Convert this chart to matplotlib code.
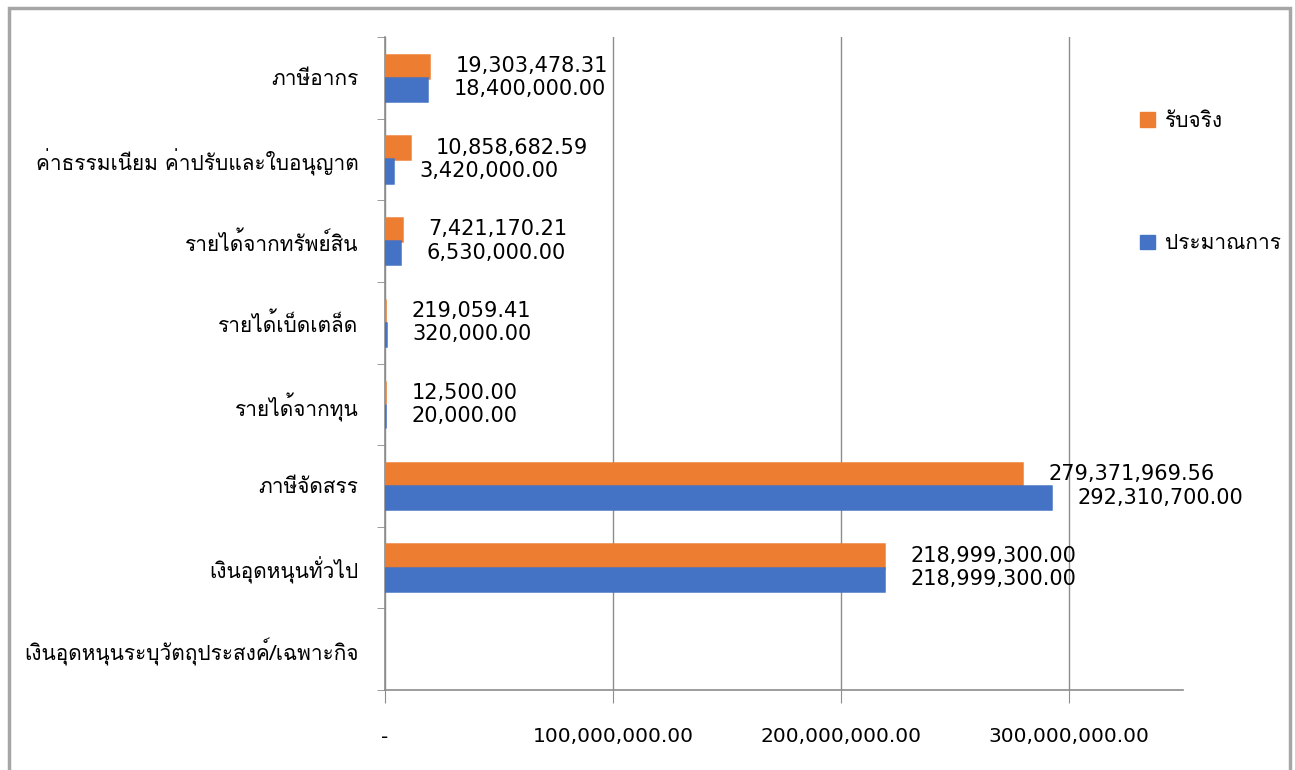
import numpy as np
import matplotlib
matplotlib.use("Agg")
import matplotlib.pyplot as plt
from matplotlib import font_manager
from matplotlib.ft2font import FT2Font
from matplotlib.patches import Rectangle, Patch

# ---- data ----
categories = [
    "ภาษีอากร",
    "ค่าธรรมเนียม ค่าปรับและใบอนุญาต",
    "รายได้จากทรัพย์สิน",
    "รายได้เบ็ดเตล็ด",
    "รายได้จากทุน",
    "ภาษีจัดสรร",
    "เงินอุดหนุนทั่วไป",
    "เงินอุดหนุนระบุวัตถุประสงค์/เฉพาะกิจ",
]
actual = [19303478.31, 10858682.59, 7421170.21, 219059.41, 12500.00,
          279371969.56, 218999300.00, np.nan]
budget = [18400000.00, 3420000.00, 6530000.00, 320000.00, 20000.00,
          292310700.00, 218999300.00, np.nan]
series_names = ["รับจริง", "ประมาณการ"]
xticks = [0, 100000000, 200000000, 300000000]
xtick_labels = ["-", "100,000,000.00", "200,000,000.00", "300,000,000.00"]

# ---- find a font with Thai glyphs ----
thai_family = None
for fe in font_manager.fontManager.ttflist:
    try:
        f = FT2Font(fe.fname)
        cm = f.get_charmap()
        if 0x0E20 in cm and 0x0E01 in cm:
            thai_family = fe.name
            break
    except Exception:
        pass
thai_fams = ([thai_family] if thai_family else []) + ["DejaVu Sans"]
num_fams = ["DejaVu Sans"]
plt.rcParams["font.family"] = thai_fams

C_ACT = "#ED7D31"
C_BUD = "#4472C4"
GRID = "#8c8c8c"

fig = plt.figure(figsize=(12.95, 7.70), dpi=100)
ax = fig.add_axes([385/1295, 1-690/770, (1183-385)/1295, (690-37)/770])

y = np.arange(len(categories))
h = 0.285
ax.barh(y - h/2, actual, height=h, color=C_ACT, edgecolor=C_ACT,
        linewidth=1.8, zorder=3)
ax.barh(y + h/2, budget, height=h, color=C_BUD, edgecolor=C_BUD,
        linewidth=1.8, zorder=3)

for i in range(len(categories)):
    for val, off in ((actual[i], -h/2), (budget[i], h/2)):
        if np.isnan(val):
            continue
        ax.annotate(f"{val:,.2f}", xy=(val, y[i] + off), xytext=(19, 0),
                    textcoords="offset points", ha="left", va="center",
                    fontsize=15, family=num_fams, color="black", zorder=4)

ax.set_xlim(0, 350000000)
ax.set_ylim(len(categories) - 0.5, -0.5)
ax.set_xticks(xticks)
ax.set_xticklabels(xtick_labels, fontsize=14.5, family=num_fams)
ax.set_yticks(y)
ax.set_yticklabels(categories, fontsize=15)
ax.set_yticks(np.arange(len(categories) + 1) - 0.5, minor=True)

ax.tick_params(axis="y", which="major", length=0, pad=19)
ax.tick_params(axis="y", which="minor", length=6, color=GRID, direction="out")
ax.tick_params(axis="x", which="major", length=9, color=GRID, direction="out", pad=18)
ax.grid(axis="x", color=GRID, linewidth=1, zorder=0)
for s in ("top", "right"):
    ax.spines[s].set_visible(False)
for s in ("left", "bottom"):
    ax.spines[s].set_color(GRID)
    ax.spines[s].set_linewidth(1.2)

# legend
handles = [Patch(color=C_ACT), Patch(color=C_BUD)]
fig.legend(handles, series_names, loc="upper left",
           bbox_to_anchor=(1140/1295, 1-112/770), frameon=False,
           fontsize=15, handlelength=0.7, handleheight=0.7, borderpad=0,
           borderaxespad=0, handletextpad=0.5, labelspacing=4.95)

# outer frame
top = 1 - 8/770
fig.patches.append(Rectangle((9/1295, -0.02), (1290-9)/1295, top + 0.02,
                             transform=fig.transFigure, fill=False,
                             edgecolor="#a6a6a6", linewidth=2.5))

fig.savefig("out.png", dpi=100)
